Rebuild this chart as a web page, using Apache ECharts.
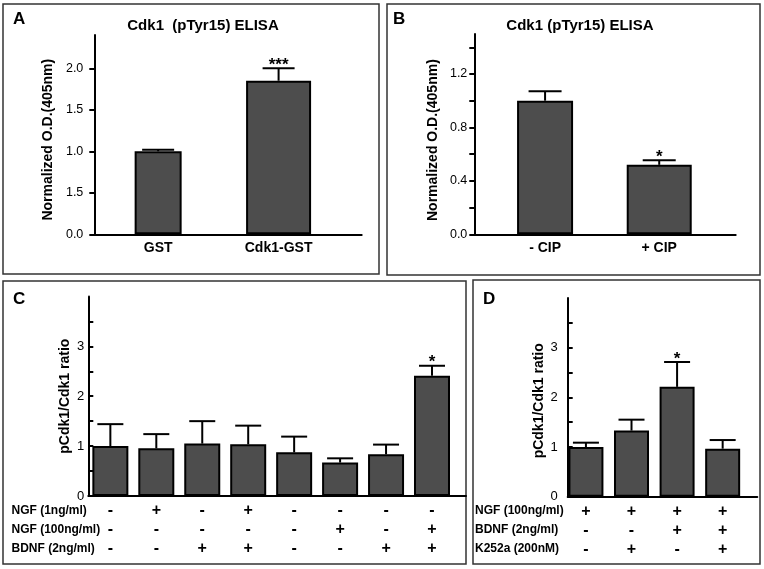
<!DOCTYPE html>
<html><head><meta charset="utf-8">
<script src="https://cdn.jsdelivr.net/npm/echarts@6.0.0/dist/echarts.min.js"></script>
<style>html,body{margin:0;padding:0;background:#fff}#c{width:764px;height:569px}</style>
</head><body><div id="c"></div>
<script>
// ---------- Panel A ----------
const catA = ['GST', 'Cdk1-GST'];
const valA = [1.00, 1.85];
const errA = [0.02, 0.15];
const sigA = ['', '***'];
const tickA = [0, 0.5, 1.0, 1.5, 2.0];
const tickLabelA = ['0.0', '1.5', '1.0', '1.5', '2.0']; // as printed in the source figure

// ---------- Panel B ----------
const catB = ['- CIP', '+ CIP'];
const valB = [1.00, 0.52];
const errB = [0.07, 0.035];
const sigB = ['', '*'];
const tickB = [0, 0.2, 0.4, 0.6, 0.8, 1.0, 1.2, 1.4];
const labelValB = [0, 0.4, 0.8, 1.2];
const tickLabelB = ['0.0', '0.4', '0.8', '1.2'];

// ---------- Panel C ----------
const rowsC = ['NGF (1ng/ml)', 'NGF (100ng/ml)', 'BDNF (2ng/ml)'];
const ngf1C = ['-', '+', '-', '+', '-', '-', '-', '-'];
const ngf100C = ['-', '-', '-', '-', '-', '+', '-', '+'];
const bdnfC = ['-', '-', '+', '+', '-', '-', '+', '+'];
const valC = [1.00, 0.955, 1.05, 1.035, 0.875, 0.67, 0.835, 2.41];
const errC = [0.44, 0.285, 0.45, 0.375, 0.315, 0.085, 0.195, 0.20];
const sigC = ['', '', '', '', '', '', '', '*'];
const tickC = [0, 0.5, 1, 1.5, 2, 2.5, 3, 3.5];
const labelValC = [0, 1, 2, 3];
const tickLabelC = ['0', '1', '2', '3'];

// ---------- Panel D ----------
const rowsD = ['NGF (100ng/ml)', 'BDNF (2ng/ml)', 'K252a (200nM)'];
const ngfD = ['+', '+', '+', '+'];
const bdnfD = ['-', '-', '+', '+'];
const k252D = ['-', '+', '-', '+'];
const valD = [1.00, 1.33, 2.21, 0.966];
const errD = [0.087, 0.22, 0.50, 0.174];
const sigD = ['', '', '*', ''];
const tickD = [0, 0.5, 1, 1.5, 2, 2.5, 3, 3.5];
const labelValD = [0, 1, 2, 3];
const tickLabelD = ['0', '1', '2', '3'];

const FONT = 'Liberation Sans, Arial, Helvetica, sans-serif';
const BAR_FILL = '#4d4d4d';
const barStyle = { color: BAR_FILL, borderColor: '#000', borderWidth: 2 };

function lookup(vals, labels) {
  return function (v) {
    for (let i = 0; i < vals.length; i++) if (Math.abs(vals[i] - v) < 1e-6) return labels[i];
    return '';
  };
}

function errRender(sig, capW) {
  return function (params, api) {
    const x = api.value(0), v = api.value(1), e = api.value(2);
    const p0 = api.coord([x, v]);
    const p1 = api.coord([x, v + e]);
    const children = [
      { type: 'line', shape: { x1: p0[0], y1: p0[1], x2: p1[0], y2: p1[1] }, style: { stroke: '#000', lineWidth: 2 } },
      { type: 'line', shape: { x1: p1[0] - capW / 2, y1: p1[1], x2: p1[0] + capW / 2, y2: p1[1] }, style: { stroke: '#000', lineWidth: 2 } }
    ];
    const s = sig[params.dataIndex];
    if (s) {
      children.push({ type: 'text', style: { text: s, x: p1[0], y: p1[1] - 3, align: 'center', verticalAlign: 'middle',
        fontSize: 17, fontWeight: 'bold', fontFamily: FONT, fill: '#000' } });
    }
    return { type: 'group', children: children };
  };
}

function yAxisCfg(grid, max, ticks, labelFn, name, gap, inside, margin, namePad, labelSize) {
  return {
    type: 'value', gridIndex: grid, min: 0, max: max,
    axisLine: { show: true, onZero: false, lineStyle: { color: '#000', width: 2 } },
    axisTick: { show: true, inside: inside, length: 5, customValues: ticks, lineStyle: { color: '#000', width: 2 } },
    axisLabel: { customValues: ticks, formatter: labelFn, color: '#000', fontSize: labelSize, fontFamily: FONT, margin: margin },
    splitLine: { show: false },
    name: name, nameLocation: 'middle', nameGap: gap,
    nameTextStyle: { color: '#000', fontSize: 14, fontWeight: 'bold', fontFamily: FONT, padding: namePad }
  };
}

function xAxisCfg(grid, min, max, customVals, fmt, extra) {
  return Object.assign({
    type: 'value', gridIndex: grid, min: min, max: max,
    axisLine: { show: true, onZero: false, lineStyle: { color: '#000', width: 2 } },
    axisTick: { show: false },
    splitLine: { show: false },
    axisLabel: { customValues: customVals, formatter: fmt, color: '#000', fontSize: 14, fontWeight: 'bold', fontFamily: FONT, margin: 7 }
  }, extra || {});
}

const idxA = catA.map((_, i) => i);
const idxB = catB.map((_, i) => i);
const idxC = valC.map((_, i) => i);
const idxD = valD.map((_, i) => i);

const option = {
  animation: false,
  backgroundColor: '#fff',
  grid: [
    { left: 94.3, top: 35.1, width: 267.4, height: 199.2, containLabel: false, outerBoundsMode: 'none' },
    { left: 474.3, top: 33.9, width: 261.4, height: 200.4, containLabel: false, outerBoundsMode: 'none' },
    { left: 88.3, top: 296.4, width: 377.7, height: 199.6, containLabel: false, outerBoundsMode: 'none' },
    { left: 567.7, top: 297.9, width: 189.6, height: 198.8, containLabel: false, outerBoundsMode: 'none' }
  ],
  xAxis: [
    xAxisCfg(0, -0.53, 1.69, idxA, v => catA[Math.round(v)]),
    xAxisCfg(1, -0.62, 1.67, idxB, v => catB[Math.round(v)]),
    xAxisCfg(2, -0.48, 7.74, idxC, v => { const i = Math.round(v); return [ngf1C[i], ngf100C[i], bdnfC[i]].join('\n'); }),
    xAxisCfg(3, -0.40, 3.76, idxD, v => { const i = Math.round(v); return [ngfD[i], bdnfD[i], k252D[i]].join('\n'); }),
    { type: 'value', gridIndex: 0, min: -0.53, max: 1.69, show: false },
    { type: 'value', gridIndex: 1, min: -0.62, max: 1.67, show: false }
  ],
  yAxis: [
    yAxisCfg(0, 2.4, tickA, lookup(tickA, tickLabelA), 'Normalized O.D.(405nm)', 39, false, 11, [0, 10, 0, 0], 12.5),
    yAxisCfg(1, 1.5, tickB, lookup(labelValB, tickLabelB), 'Normalized O.D.(405nm)', 34, false, 7, [0, 12, 0, 0], 12.5),
    yAxisCfg(2, 4, tickC, lookup(labelValC, tickLabelC), 'pCdk1/Cdk1 ratio', 16, true, 4, [0, 0, 0, 0], 13),
    yAxisCfg(3, 4, tickD, lookup(labelValD, tickLabelD), 'pCdk1/Cdk1 ratio', 21, true, 10, [0, 7, 0, 0], 13)
  ],
  series: [
    { type: 'bar', xAxisIndex: 0, yAxisIndex: 0, barWidth: 47, itemStyle: barStyle, data: [[0, valA[0]]] },
    { type: 'bar', xAxisIndex: 4, yAxisIndex: 0, barWidth: 65, itemStyle: barStyle, data: [[1, valA[1]]] },
    { type: 'custom', xAxisIndex: 0, yAxisIndex: 0, z: 5, silent: true, renderItem: errRender(sigA, 32),
      encode: { x: 0, y: 1 }, data: valA.map((v, i) => [i, v, errA[i]]) },

    { type: 'bar', xAxisIndex: 1, yAxisIndex: 1, barWidth: 56, itemStyle: barStyle, data: [[0, valB[0]]] },
    { type: 'bar', xAxisIndex: 5, yAxisIndex: 1, barWidth: 65, itemStyle: barStyle, data: [[1, valB[1]]] },
    { type: 'custom', xAxisIndex: 1, yAxisIndex: 1, z: 5, silent: true, renderItem: errRender(sigB, 33),
      encode: { x: 0, y: 1 }, data: valB.map((v, i) => [i, v, errB[i]]) },

    { type: 'bar', xAxisIndex: 2, yAxisIndex: 2, barWidth: 36, itemStyle: barStyle, data: valC.map((v, i) => [i, v]) },
    { type: 'custom', xAxisIndex: 2, yAxisIndex: 2, z: 5, silent: true, renderItem: errRender(sigC, 26),
      encode: { x: 0, y: 1 }, data: valC.map((v, i) => [i, v, errC[i]]) },

    { type: 'bar', xAxisIndex: 3, yAxisIndex: 3, barWidth: 35, itemStyle: barStyle, data: valD.map((v, i) => [i, v]) },
    { type: 'custom', xAxisIndex: 3, yAxisIndex: 3, z: 5, silent: true, renderItem: errRender(sigD, 26),
      encode: { x: 0, y: 1 }, data: valD.map((v, i) => [i, v, errD[i]]) }
  ],
  graphic: []
};

// panel frames
const frameStyle = { fill: 'none', stroke: '#333', lineWidth: 1.5 };
[[3, 4, 376, 270], [387, 4, 373, 271], [3, 281, 463, 283], [473, 280, 287, 284]].forEach(r => {
  option.graphic.push({ type: 'rect', silent: true, shape: { x: r[0], y: r[1], width: r[2], height: r[3] }, style: frameStyle });
});
// panel letters
[['A', 13, 19.5], ['B', 393, 19.5], ['C', 13, 299.5], ['D', 483, 299.5]].forEach(l => {
  option.graphic.push({ type: 'text', silent: true, style: { text: l[0], x: l[1], y: l[2], align: 'left', verticalAlign: 'middle',
    fontSize: 17, fontWeight: 'bold', fontFamily: FONT, fill: '#000' } });
});
// panel titles
[['Cdk1  (pTyr15) ELISA', 203, 26], ['Cdk1 (pTyr15) ELISA', 580, 26]].forEach(t => {
  option.graphic.push({ type: 'text', silent: true, style: { text: t[0], x: t[1], y: t[2], align: 'center', verticalAlign: 'middle',
    fontSize: 15, fontWeight: 'bold', fontFamily: FONT, fill: '#000' } });
});
// treatment row headings
const rowY = [511, 530, 549];
rowsC.forEach((t, i) => option.graphic.push({ type: 'text', silent: true, style: { text: t, x: 11.5, y: rowY[i], align: 'left',
  verticalAlign: 'middle', fontSize: 12, fontWeight: 'bold', fontFamily: FONT, fill: '#000' } }));
rowsD.forEach((t, i) => option.graphic.push({ type: 'text', silent: true, style: { text: t, x: 475, y: rowY[i], align: 'left',
  verticalAlign: 'middle', fontSize: 12, fontWeight: 'bold', fontFamily: FONT, fill: '#000' } }));

// sign label styling for C and D
[2, 3].forEach(k => {
  option.xAxis[k].axisLabel.fontSize = 16;
  option.xAxis[k].axisLabel.lineHeight = 19;
  option.xAxis[k].axisLabel.margin = 5.5;
});

const chart = echarts.init(document.getElementById('c'), null, { renderer: 'canvas' });
chart.setOption(option);
</script>
</body></html>
